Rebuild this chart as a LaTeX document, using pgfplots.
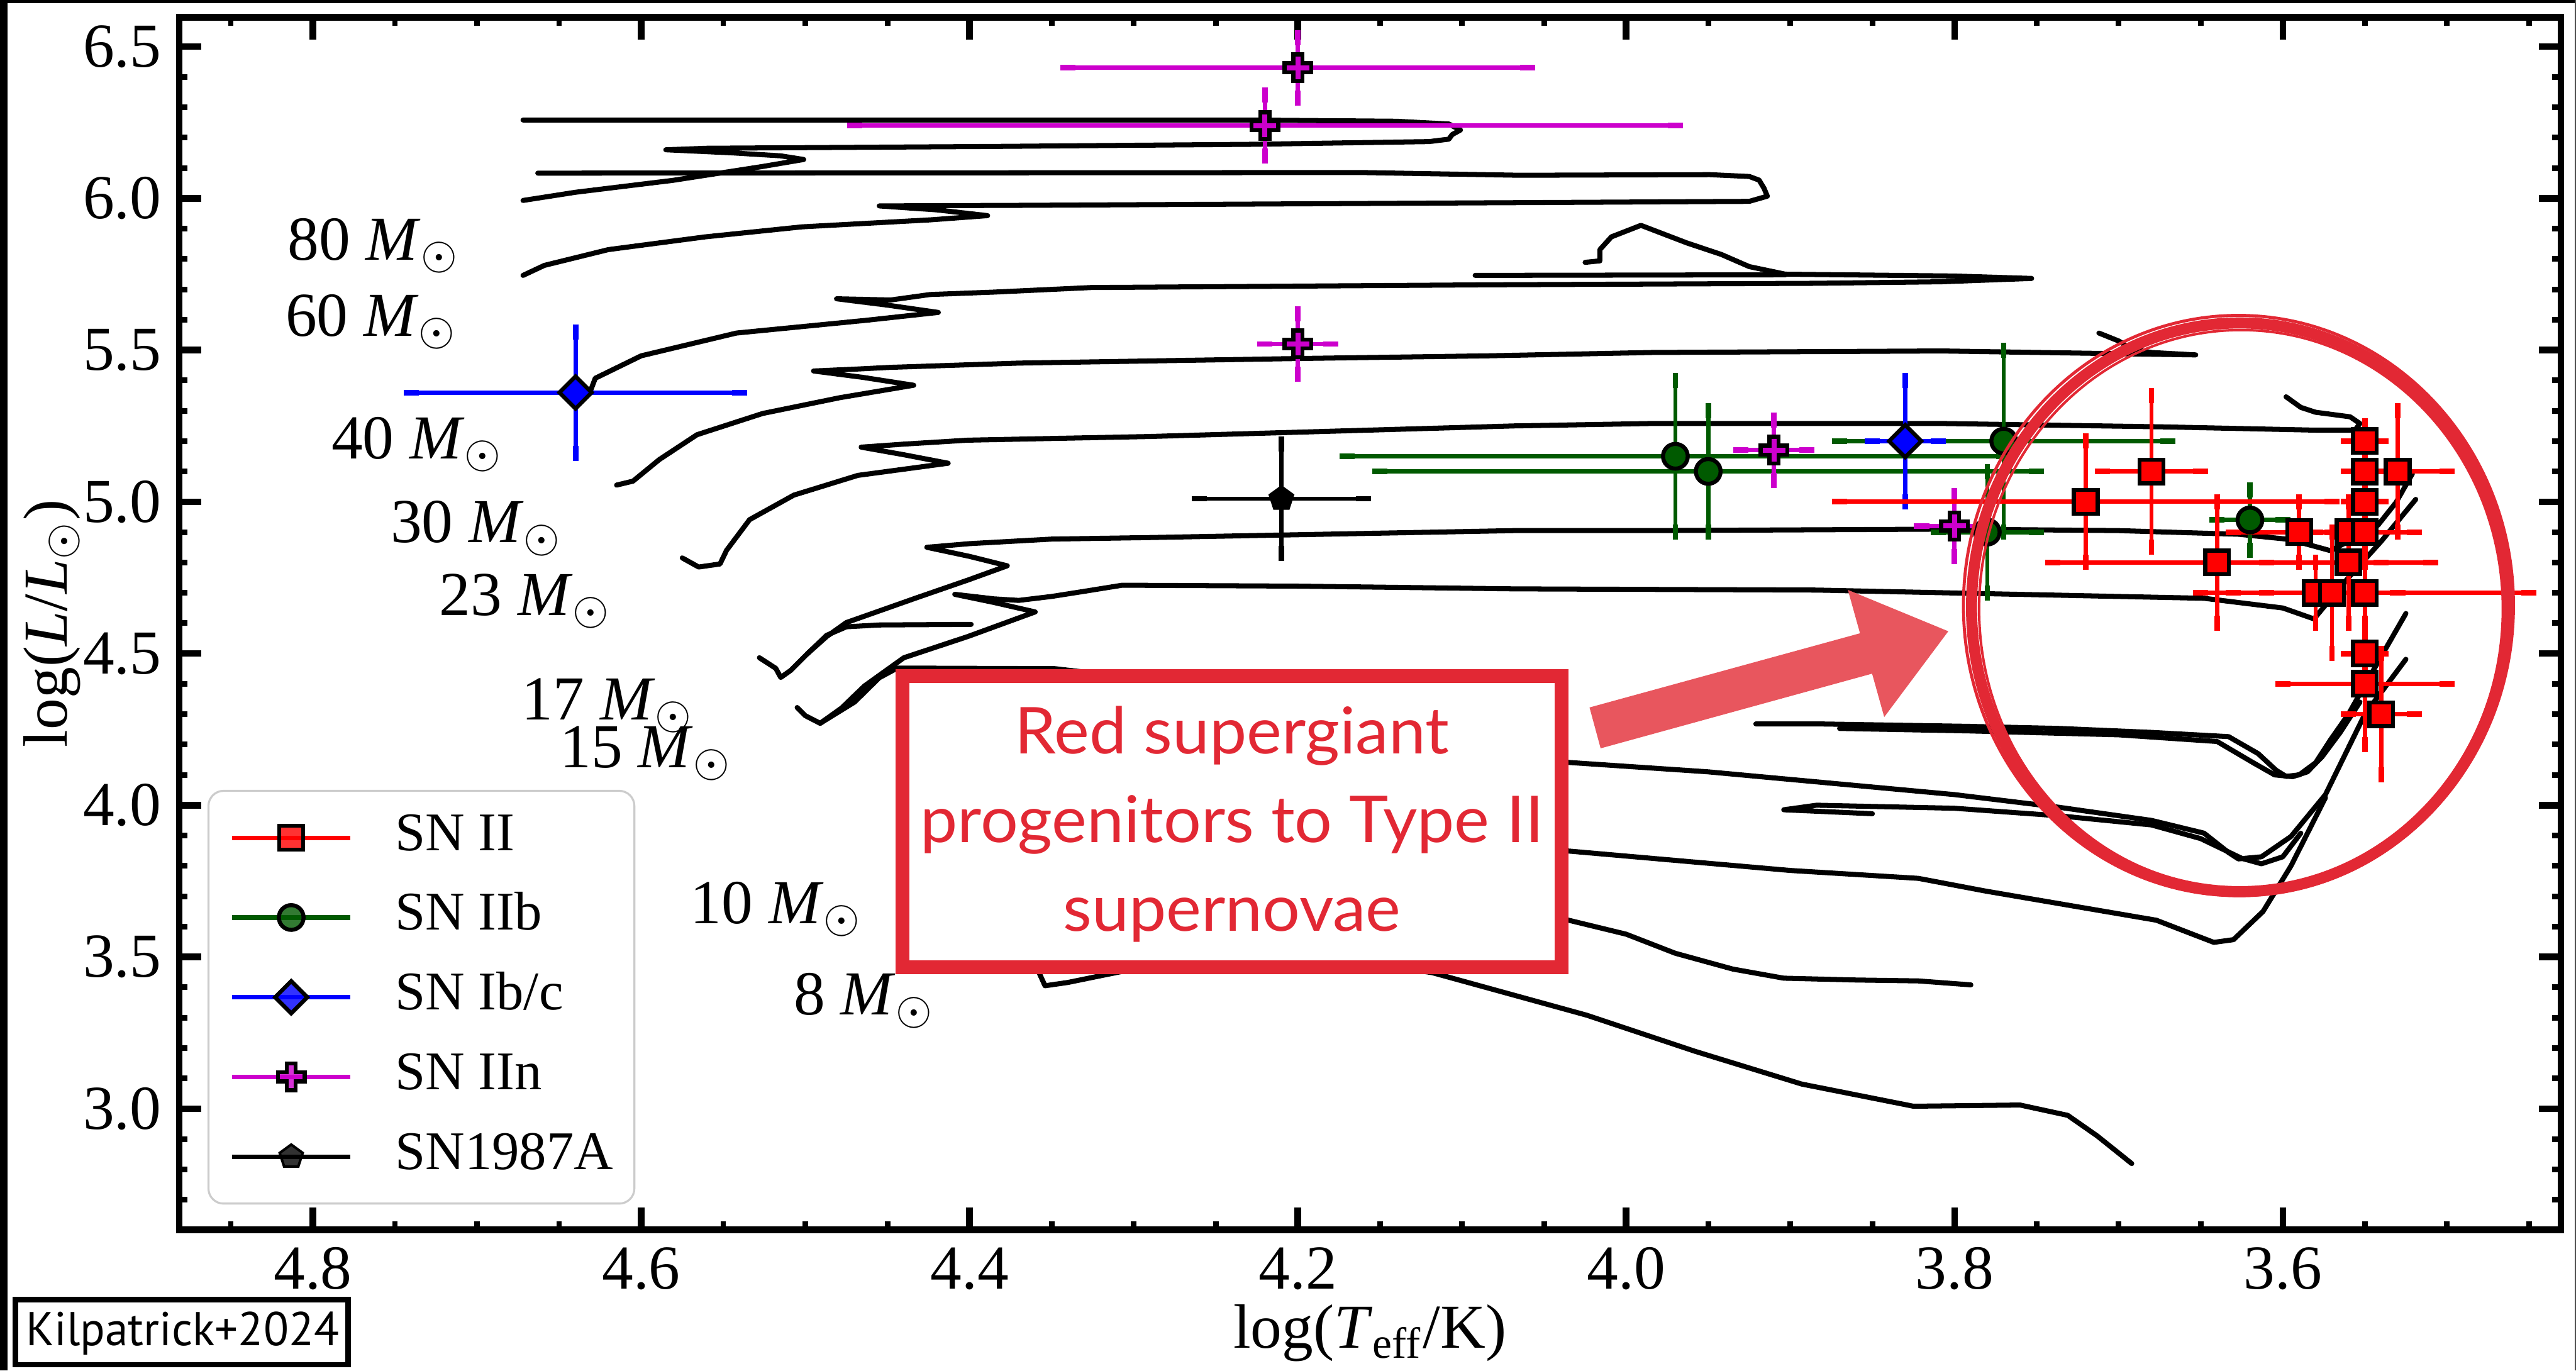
\documentclass[border=0pt]{standalone}
\usepackage{pgfplots}
\pgfplotsset{compat=1.18}
\usepackage{graphicx}
\usepackage{fontspec}
\setmainfont{Liberation Serif}
\newfontfamily\boxfont{Lato}
\newfontfamily\kfont{PT Sans}
\definecolor{boxred}{RGB}{226,40,52}
\definecolor{arrowred}{RGB}{232,86,94}
\definecolor{dgreen}{RGB}{0,90,0}
\definecolor{mag}{RGB}{204,0,204}
\pgfdeclareplotmark{plusfill}{%
  \pgfpathmoveto{\pgfqpoint{-0.34\pgfplotmarksize}{\pgfplotmarksize}}%
  \pgfpathlineto{\pgfqpoint{0.34\pgfplotmarksize}{\pgfplotmarksize}}%
  \pgfpathlineto{\pgfqpoint{0.34\pgfplotmarksize}{0.34\pgfplotmarksize}}%
  \pgfpathlineto{\pgfqpoint{\pgfplotmarksize}{0.34\pgfplotmarksize}}%
  \pgfpathlineto{\pgfqpoint{\pgfplotmarksize}{-0.34\pgfplotmarksize}}%
  \pgfpathlineto{\pgfqpoint{0.34\pgfplotmarksize}{-0.34\pgfplotmarksize}}%
  \pgfpathlineto{\pgfqpoint{0.34\pgfplotmarksize}{-\pgfplotmarksize}}%
  \pgfpathlineto{\pgfqpoint{-0.34\pgfplotmarksize}{-\pgfplotmarksize}}%
  \pgfpathlineto{\pgfqpoint{-0.34\pgfplotmarksize}{-0.34\pgfplotmarksize}}%
  \pgfpathlineto{\pgfqpoint{-\pgfplotmarksize}{-0.34\pgfplotmarksize}}%
  \pgfpathlineto{\pgfqpoint{-\pgfplotmarksize}{0.34\pgfplotmarksize}}%
  \pgfpathlineto{\pgfqpoint{-0.34\pgfplotmarksize}{0.34\pgfplotmarksize}}%
  \pgfpathclose\pgfusepathqfillstroke}

\pgfplotstableread{
x y ex ey
3.72 5.00 0.15 0.20
3.68 5.10 0.03 0.25
3.64 4.80 0.10 0.20
3.59 4.90 0.04 0.10
3.56 4.90 0.01 0.10
3.55 5.20 0.01 0.05
3.55 5.10 0.01 0.05
3.53 5.10 0.03 0.20
3.55 5.00 0.01 0.05
3.55 4.90 0.03 0.05
3.56 4.80 0.05 0.20
3.58 4.70 0.05 0.10
3.57 4.70 0.04 0.20
3.55 4.70 0.10 0.10
3.55 4.50 0.01 0.05
3.55 4.40 0.05 0.20
3.54 4.30 0.02 0.20
}\snII
\pgfplotstableread{
x y ex ey
3.97 5.15 0.20 0.25
3.95 5.10 0.20 0.20
3.77 5.20 0.10 0.30
3.78 4.90 0.03 0.20
3.62 4.94 0.02 0.10
}\snIIb
\pgfplotstableread{
x y ex ey
4.64 5.36 0.10 0.20
3.83 5.20 0.02 0.20
}\snIbc
\pgfplotstableread{
x y ex ey
4.20 6.43 0.14 0.10
4.22 6.24 0.25 0.10
4.20 5.52 0.02 0.10
3.91 5.17 0.02 0.10
3.80 4.92 0.02 0.10
}\snIIn
\pgfplotstableread{
x y ex ey
4.21 5.01 0.05 0.18
}\snA
\newlength\bxw
\newlength\kxw

\begin{document}
\settowidth\bxw{\boxfont\fontsize{12.8}{15}\selectfont progenitors to Type II}%
\settowidth\kxw{\kfont\fontsize{9.4}{11}\selectfont Kilpatrick+2024}%
\pgfmathsetmacro\bxs{123.5pt/\bxw}%
\pgfmathsetmacro\kxs{62pt/\kxw}%
\begin{tikzpicture}
\useasboundingbox (0,0) rectangle (510.5pt,271.6pt);
\begin{axis}[
  at={(35.5pt,27.9pt)}, anchor=south west,
  scale only axis, width=472pt, height=240.3pt,
  x dir=reverse, xmin=3.4306, xmax=4.8815, ymin=2.601, ymax=6.597,
  xtick={3.6,3.8,4.0,4.2,4.4,4.6,4.8},
  ytick={3.0,3.5,4.0,4.5,5.0,5.5,6.0,6.5},
  minor xtick={3.45,3.5,3.55,3.65,3.7,3.75,3.85,3.9,3.95,4.05,4.1,4.15,4.25,4.3,4.35,4.45,4.5,4.55,4.65,4.7,4.75,4.85},
  minor ytick={2.7,2.8,2.9,3.1,3.2,3.3,3.4,3.6,3.7,3.8,3.9,4.1,4.2,4.3,4.4,4.6,4.7,4.8,4.9,5.1,5.2,5.3,5.4,5.6,5.7,5.8,5.9,6.1,6.2,6.3,6.4},
  tick align=inside, major tick length=4.4pt, minor tick length=1.7pt,
  every major tick/.style={line width=1.3pt, black},
  every minor tick/.style={line width=1.1pt, black},
  axis line style={line width=1.3pt},
  tick label style={font=\fontsize{12.4}{14}\selectfont},
  /pgf/number format/assume math mode=true,
  xticklabel style={/pgf/number format/.cd, fixed, fixed zerofill, precision=1},
  yticklabel style={/pgf/number format/.cd, fixed, fixed zerofill, precision=1},
  label style={font=\fontsize{12.4}{14}\selectfont},
  xlabel={log(\textit{T}\textsubscript{eff}/K)},
  ylabel={log(\textit{L}/\textit{L}$_{\odot}$)},
  xlabel style={at={(axis description cs:0.5,-0.0978)}, anchor=base},
  ylabel style={at={(axis description cs:-0.0472,0.5)}, anchor=base},
  legend image code/.code={\draw[mark repeat=2,mark phase=2,#1] plot coordinates {(0pt,0pt) (11.75pt,0pt) (23.5pt,0pt)};},
  legend style={at={(0.0119,0.3628)}, anchor=north west, draw=black!20, line width=0.4pt,
    rounded corners=3pt, fill=white, fill opacity=0.8, text opacity=1,
    font=\fontsize{10.8}{12}\selectfont, inner xsep=4.2pt, inner ysep=4.6pt,
    nodes={inner sep=0pt, text height=7.2pt, text depth=2.2pt}, row sep=6.4pt, column sep=8.4pt},
  legend cell align=left,
]
\addlegendimage{red, line width=0.9pt, mark=square*, mark size=2.35pt, mark options={fill=red, draw=black, line width=0.8pt}}
\addlegendentry{SN II}
\addlegendimage{dgreen, line width=0.9pt, mark=*, mark size=2.45pt, mark options={fill=dgreen, draw=black, line width=0.8pt}}
\addlegendentry{SN IIb}
\addlegendimage{blue, line width=0.9pt, mark=square*, mark size=2.26pt, mark options={fill=blue, draw=black, line width=0.8pt, rotate=45}}
\addlegendentry{SN Ib/c}
\addlegendimage{mag, line width=0.9pt, mark=plusfill, mark size=2.65pt, mark options={fill=mag, draw=black, line width=0.8pt}}
\addlegendentry{SN IIn}
\addlegendimage{black, line width=0.9pt, mark=pentagon*, mark size=2.4pt, mark options={fill=black, draw=black, line width=0.5pt}}
\addlegendentry{SN1987A}

% evolutionary tracks
\pgfplotsset{track/.style={forget plot, black, line width=1.0pt, line join=round, line cap=round}}
\addplot[track] coordinates {(4.672,5.993) (4.640,6.020) (4.581,6.059) (4.526,6.105) (4.501,6.128) (4.515,6.140) (4.545,6.150) (4.585,6.160) (4.560,6.165) (4.385,6.171) (4.228,6.178) (4.120,6.187) (4.108,6.195) (4.106,6.210) (4.101,6.225) (4.108,6.245) (4.140,6.254) (4.228,6.258) (4.672,6.258)};
\addplot[track] coordinates {(4.672,5.746) (4.659,5.779) (4.620,5.831) (4.561,5.873) (4.502,5.906) (4.424,5.929) (4.389,5.943) (4.420,5.962) (4.455,5.975) (4.365,5.977) (4.161,5.983) (3.990,5.988) (3.925,5.990) (3.914,6.007) (3.916,6.033) (3.919,6.060) (3.925,6.072) (3.949,6.078) (4.065,6.076) (4.161,6.085) (4.663,6.083)};
\addplot[track] coordinates {(4.631,5.364) (4.628,5.407) (4.600,5.481) (4.542,5.556) (4.463,5.598) (4.419,5.624) (4.450,5.648) (4.481,5.669) (4.448,5.665) (4.424,5.683) (4.385,5.691) (4.326,5.706) (4.084,5.715) (3.884,5.720) (3.808,5.725) (3.753,5.736) (3.800,5.744) (3.903,5.750) (3.925,5.775) (3.942,5.815) (3.963,5.853) (3.991,5.911) (4.009,5.873) (4.016,5.831) (4.016,5.794) (4.025,5.789)};
\addplot[track] coordinates {(3.903,5.748) (4.092,5.746)};
\addplot[track] coordinates {(4.615,5.055) (4.605,5.068) (4.589,5.139) (4.566,5.221) (4.526,5.291) (4.479,5.343) (4.434,5.384) (4.465,5.410) (4.495,5.431) (4.470,5.437) (4.448,5.443) (4.370,5.457) (4.201,5.472) (4.084,5.481) (3.984,5.492) (3.808,5.497) (3.653,5.484) (3.680,5.492) (3.692,5.503) (3.700,5.530) (3.712,5.556)};
\addplot[track] coordinates {(4.575,4.815) (4.565,4.785) (4.552,4.795) (4.548,4.840) (4.534,4.941) (4.507,5.022) (4.468,5.087) (4.413,5.127) (4.440,5.155) (4.466,5.180) (4.440,5.190) (4.401,5.203) (4.291,5.215) (4.068,5.250) (3.984,5.258) (3.808,5.258) (3.674,5.247) (3.580,5.236) (3.556,5.236) (3.553,5.258) (3.559,5.280) (3.580,5.295) (3.589,5.311) (3.598,5.346)};
\addplot[track] coordinates {(4.528,4.486) (4.518,4.451) (4.515,4.421) (4.509,4.444) (4.499,4.498) (4.487,4.556) (4.475,4.602) (4.432,4.684) (4.401,4.742) (4.377,4.789) (4.400,4.820) (4.426,4.850) (4.400,4.862) (4.350,4.877) (4.291,4.882) (4.068,4.905) (3.984,4.905) (3.800,4.910) (3.700,4.905) (3.627,4.893) (3.596,4.876) (3.571,4.839) (3.556,4.881) (3.542,4.923) (3.531,4.998) (3.521,5.093)};
\addplot[track] coordinates {(4.499,4.498) (4.487,4.560) (4.475,4.588) (4.455,4.594) (4.399,4.596)};
\addplot[track] coordinates {(4.505,4.322) (4.500,4.295) (4.491,4.270) (4.478,4.320) (4.464,4.393) (4.440,4.486) (4.401,4.556) (4.360,4.637) (4.385,4.668) (4.409,4.695) (4.385,4.680) (4.370,4.675) (4.350,4.688) (4.330,4.705) (4.307,4.725) (4.200,4.722) (4.068,4.713) (3.884,4.709) (3.648,4.682) (3.600,4.650) (3.581,4.614) (3.560,4.750) (3.540,4.870) (3.519,5.008)};
\addplot[track] coordinates {(4.491,4.270) (4.470,4.340) (4.455,4.420) (4.444,4.452) (4.348,4.450) (4.30,4.42) (4.20,4.38) (4.10,4.25) (4.035,4.141) (3.95,4.11) (3.884,4.077) (3.80,4.035) (3.736,3.993) (3.680,3.950) (3.648,3.908) (3.633,3.844) (3.627,3.823) (3.613,3.830) (3.595,3.897) (3.574,4.035) (3.550,4.300) (3.525,4.481)};
\addplot[track] coordinates {(3.921,4.268) (3.884,4.268) (3.792,4.260) (3.736,4.253) (3.680,4.240) (3.633,4.226) (3.615,4.170) (3.604,4.115) (3.598,4.095) (3.590,4.100) (3.580,4.140) (3.571,4.215) (3.560,4.300) (3.550,4.396) (3.525,4.632)};
\addplot[track] coordinates {(3.870,4.253) (3.792,4.245) (3.700,4.232) (3.640,4.210) (3.618,4.140) (3.605,4.100) (3.594,4.094) (3.585,4.110) (3.576,4.160) (3.565,4.240) (3.553,4.340)};
\addplot[track] coordinates {(3.850,3.972) (3.904,3.985) (3.884,4.000) (3.800,3.990) (3.736,3.965) (3.680,3.935) (3.650,3.890) (3.625,3.825) (3.613,3.807) (3.600,3.830) (3.589,3.908)};
\addplot[track] coordinates {(4.080,3.870) (4.035,3.849) (3.900,3.785) (3.822,3.759) (3.781,3.717) (3.677,3.621) (3.655,3.575) (3.642,3.548) (3.630,3.557) (3.612,3.650) (3.595,3.800) (3.574,4.025)};
\addplot[track] coordinates {(4.080,3.660) (4.035,3.621) (4.000,3.575) (3.970,3.512) (3.935,3.460) (3.904,3.430) (3.860,3.424) (3.822,3.421) (3.790,3.408)};
\addplot[track] coordinates {(4.359,3.464) (4.354,3.405) (4.340,3.416) (4.321,3.437) (4.300,3.460) (4.250,3.500) (4.180,3.500) (4.118,3.448) (4.024,3.308) (3.958,3.189) (3.893,3.081) (3.825,3.008) (3.760,3.012) (3.731,2.978) (3.713,2.910) (3.692,2.819)};

% data
\pgfplotsset{ebar/.style={forget plot, only marks,
  error bars/x dir=both, error bars/x explicit, error bars/y dir=both, error bars/y explicit,
  error bars/error bar style={#1, line width=0.85pt},
  error bars/error mark options={#1, line width=1.1pt, mark size=1.5pt}}}
\addplot[ebar=dgreen, mark=*, mark size=2.45pt, mark options={fill=dgreen, draw=black, line width=0.8pt}]
  table[x=x, y=y, x error=ex, y error=ey]{\snIIb};
\addplot[ebar=blue, mark=square*, mark size=2.26pt, mark options={fill=blue, draw=black, line width=0.8pt, rotate=45}]
  table[x=x, y=y, x error=ex, y error=ey]{\snIbc};
\addplot[ebar=mag, mark=plusfill, mark size=2.65pt, mark options={fill=mag, draw=black, line width=0.8pt}]
  table[x=x, y=y, x error=ex, y error=ey]{\snIIn};
\addplot[ebar=black, mark=pentagon*, mark size=2.4pt, mark options={fill=black, draw=black, line width=0.5pt}]
  table[x=x, y=y, x error=ex, y error=ey]{\snA};
\addplot[ebar=red, mark=square*, mark size=2.35pt, mark options={fill=red, draw=black, line width=0.8pt}]
  table[x=x, y=y, x error=ex, y error=ey]{\snII};
\end{axis}

% mass labels
\begin{scope}[every node/.style={anchor=base west, inner sep=0pt, font=\fontsize{12.4}{14}\selectfont}]
\node at (56.8pt,220.1pt) {80 \textit{M}$_{\odot}$};
\node at (56.4pt,205.0pt) {60 \textit{M}$_{\odot}$};
\node at (65.5pt,180.7pt) {40 \textit{M}$_{\odot}$};
\node at (77.2pt,164.1pt) {30 \textit{M}$_{\odot}$};
\node at (86.9pt,149.7pt) {23 \textit{M}$_{\odot}$};
\node at (103.2pt,129.0pt) {17 \textit{M}$_{\odot}$};
\node at (110.8pt,119.5pt) {15 \textit{M}$_{\odot}$};
\node at (136.6pt,88.6pt) {10 \textit{M}$_{\odot}$};
\node at (157.1pt,70.5pt) {8 \textit{M}$_{\odot}$};
\end{scope}

% annotation box
\draw[boxred, line width=2.7pt, fill=white] (178.85pt,79.95pt) rectangle (309.45pt,137.6pt);
\begin{scope}[every node/.style={anchor=base, inner sep=0pt, text=boxred, font=\boxfont\fontsize{12.8}{15}\selectfont}]
\node at (244.15pt,122.2pt) {\scalebox{\bxs}[1]{Red supergiant}};
\node at (244.15pt,104.6pt) {\scalebox{\bxs}[1]{progenitors to Type II}};
\node at (244.15pt,87.1pt) {\scalebox{\bxs}[1]{supernovae}};
\end{scope}

% arrow
\fill[arrowred] (315.0pt,131.4pt) -- (368.6pt,146.1pt) -- (366.2pt,154.7pt) -- (386.1pt,146.5pt) -- (373.4pt,129.5pt) -- (371.0pt,138.1pt) -- (317.2pt,123.3pt) -- cycle;

% circle (sketchy look)
\draw[boxred, line width=2.2pt] (443.85pt,151.25pt) ellipse [x radius=53.15pt, y radius=56.35pt];
\draw[boxred, line width=0.6pt] (443.6pt,151.6pt) ellipse [x radius=54.5pt, y radius=57.5pt];
\draw[boxred, line width=0.5pt] (444.1pt,150.9pt) ellipse [x radius=51.9pt, y radius=55.3pt];
\draw[boxred, line width=0.4pt, dash pattern=on 14pt off 6pt] (443.9pt,151.3pt) ellipse [x radius=54.0pt, y radius=57.0pt];

% credit box
\draw[line width=1.1pt] (3.05pt,1.15pt) rectangle (68.95pt,14.05pt);
\node[inner sep=0pt, font=\kfont\fontsize{9.4}{11}\selectfont] at (36.2pt,7.4pt) {\scalebox{\kxs}[1]{Kilpatrick+2024}};

% outer frame (left, top thick; right thin)
\fill (0,0) rectangle (1.5pt,271.6pt);
\fill (0,270.95pt) rectangle (510.5pt,271.6pt);
\draw[line width=0.3pt, black!70] (510.35pt,0) -- (510.35pt,271.6pt);
\end{tikzpicture}
\end{document}
